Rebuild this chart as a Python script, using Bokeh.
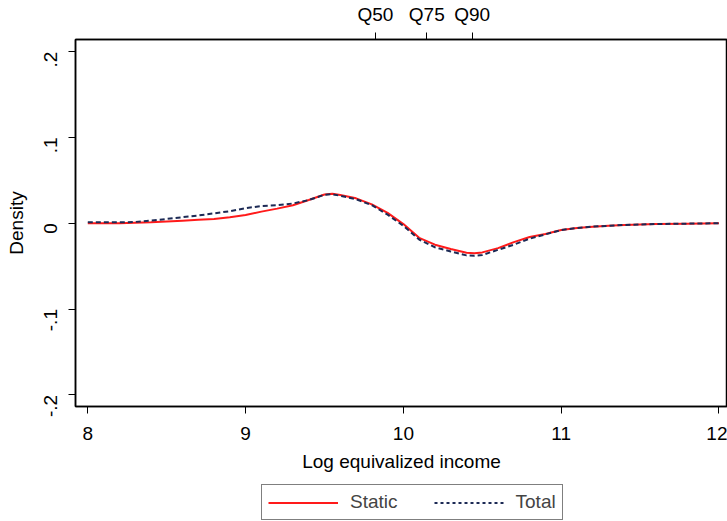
import math
from bokeh.plotting import figure
from bokeh.layouts import column
from bokeh.models import (LinearAxis, FixedTicker, Range1d, Legend, LegendItem,
                          ColumnDataSource)
from bokeh.embed import file_html
from bokeh.resources import INLINE

# ---- data ----
income = [8.0, 8.1, 8.2, 8.3, 8.4, 8.5, 8.6, 8.7, 8.8, 8.9,
          9.0, 9.1, 9.2, 9.3, 9.4, 9.5, 9.55, 9.6, 9.7, 9.8, 9.9,
          10.0, 10.1, 10.2, 10.3, 10.4, 10.45, 10.5, 10.6, 10.7, 10.8, 10.9,
          11.0, 11.1, 11.2, 11.3, 11.4, 11.5, 11.6, 11.8, 12.0]
static = [0.000, 0.000, 0.000, 0.0005, 0.001, 0.002, 0.003, 0.004, 0.005, 0.007,
          0.0095, 0.0135, 0.017, 0.021, 0.027, 0.0335, 0.0343, 0.033, 0.029, 0.022, 0.012,
          -0.001, -0.017, -0.025, -0.030, -0.0345, -0.035, -0.034, -0.029, -0.022, -0.016, -0.0125,
          -0.008, -0.0055, -0.004, -0.003, -0.002, -0.0015, -0.001, -0.0005, 0.000]
total = [0.001, 0.001, 0.001, 0.0015, 0.003, 0.005, 0.007, 0.009, 0.0115, 0.014,
         0.0175, 0.020, 0.021, 0.023, 0.027, 0.0332, 0.0338, 0.032, 0.028, 0.021, 0.010,
         -0.003, -0.019, -0.028, -0.033, -0.0375, -0.038, -0.037, -0.031, -0.025, -0.018, -0.013,
         -0.008, -0.0055, -0.004, -0.003, -0.002, -0.0015, -0.001, -0.0005, 0.000]

x_ticks = [8, 9, 10, 11, 12]
y_ticks = [0.2, 0.1, 0.0, -0.1, -0.2]
y_tick_labels = [".2", ".1", "0", "-.1", "-.2"]
q_positions = [9.823, 10.148, 10.436]
q_labels = ["Q50", "Q75", "Q90"]
series_names = ["Static", "Total"]

FONT = "Liberation Sans"
FS = "19px"
RED = "#ff1a1a"
NAVY = "#1c2a55"

p = figure(frame_width=652, frame_height=367, output_backend="svg", toolbar_location=None,
           x_range=Range1d(7.922, 12.054), y_range=Range1d(-0.2136, 0.2141),
           min_border_left=75, min_border_top=39, min_border_bottom=78,
           min_border_right=0, x_axis_location=None, y_axis_location=None)
p.background_fill_color = "white"
p.border_fill_color = "white"
p.outline_line_color = "black"
p.outline_line_width = 1.5
p.xgrid.visible = False
p.ygrid.visible = False

src = ColumnDataSource(dict(x=income, s=static, t=total))
p.line("x", "s", source=src, line_color=RED, line_width=2)
p.line("x", "t", source=src, line_color=NAVY, line_width=2, line_dash="5 3")


def style_axis(ax):
    ax.axis_line_color = "black"
    ax.axis_line_width = 1.5
    ax.major_tick_line_color = "black"
    ax.major_tick_out = 7
    ax.major_tick_in = 0
    ax.minor_tick_out = 0
    ax.minor_tick_in = 0
    ax.major_label_text_font = FONT
    ax.major_label_text_font_size = FS
    ax.major_label_text_color = "black"
    ax.axis_label_text_font = FONT
    ax.axis_label_text_font_size = FS
    ax.axis_label_text_font_style = "normal"
    ax.axis_label_text_color = "black"


# bottom axis
xb = LinearAxis(ticker=FixedTicker(ticks=x_ticks), axis_label="Log equivalized income")
style_axis(xb)
xb.major_label_standoff = 13
xb.axis_label_standoff = 8
p.add_layout(xb, "below")

# left axis
yl = LinearAxis(ticker=FixedTicker(ticks=y_ticks), axis_label="Density")
style_axis(yl)
yl.major_label_overrides = {t: l for t, l in zip(y_ticks, y_tick_labels)}
yl.major_label_orientation = math.pi / 2
yl.major_label_standoff = 18
yl.axis_label_standoff = 8
p.add_layout(yl, "left")

# top axis with quantiles
xt = LinearAxis(ticker=FixedTicker(ticks=q_positions))
style_axis(xt)
xt.major_label_overrides = {t: l for t, l in zip(q_positions, q_labels)}
xt.major_label_standoff = 8
p.add_layout(xt, "above")

# legend strip below the chart (same series, drawn outside its visible range)
lg = figure(width=727, height=37, output_backend="svg", toolbar_location=None,
            x_range=Range1d(0, 1), y_range=Range1d(0, 1),
            min_border_left=0, min_border_right=0, min_border_top=0, min_border_bottom=0,
            x_axis_location=None, y_axis_location=None)
lg.outline_line_color = None
lg.xgrid.visible = False
lg.ygrid.visible = False
lg.border_fill_color = "white"
lsrc = ColumnDataSource(dict(x=income, s=static, t=total))
l_static = lg.line("x", "s", source=lsrc, line_color=RED, line_width=2)
l_total = lg.line("x", "t", source=lsrc, line_color=NAVY, line_width=2, line_dash="3 3")

legend = Legend(items=[LegendItem(label=series_names[0], renderers=[l_static]),
                       LegendItem(label=series_names[1], renderers=[l_total])],
                orientation="horizontal", location=(186, 1))
legend.label_text_font = FONT
legend.label_text_font_size = FS
legend.glyph_width = 70
legend.glyph_height = 19
legend.label_height = 19
legend.label_standoff = 12
legend.spacing = 36
legend.padding = 6
legend.margin = 0
legend.border_line_color = "black"
legend.border_line_width = 1
legend.background_fill_color = "white"
legend.background_fill_alpha = 1
lg.add_layout(legend, "center")

layout = column(p, lg, spacing=0)
open("out.html", "w").write(file_html(layout, INLINE))
